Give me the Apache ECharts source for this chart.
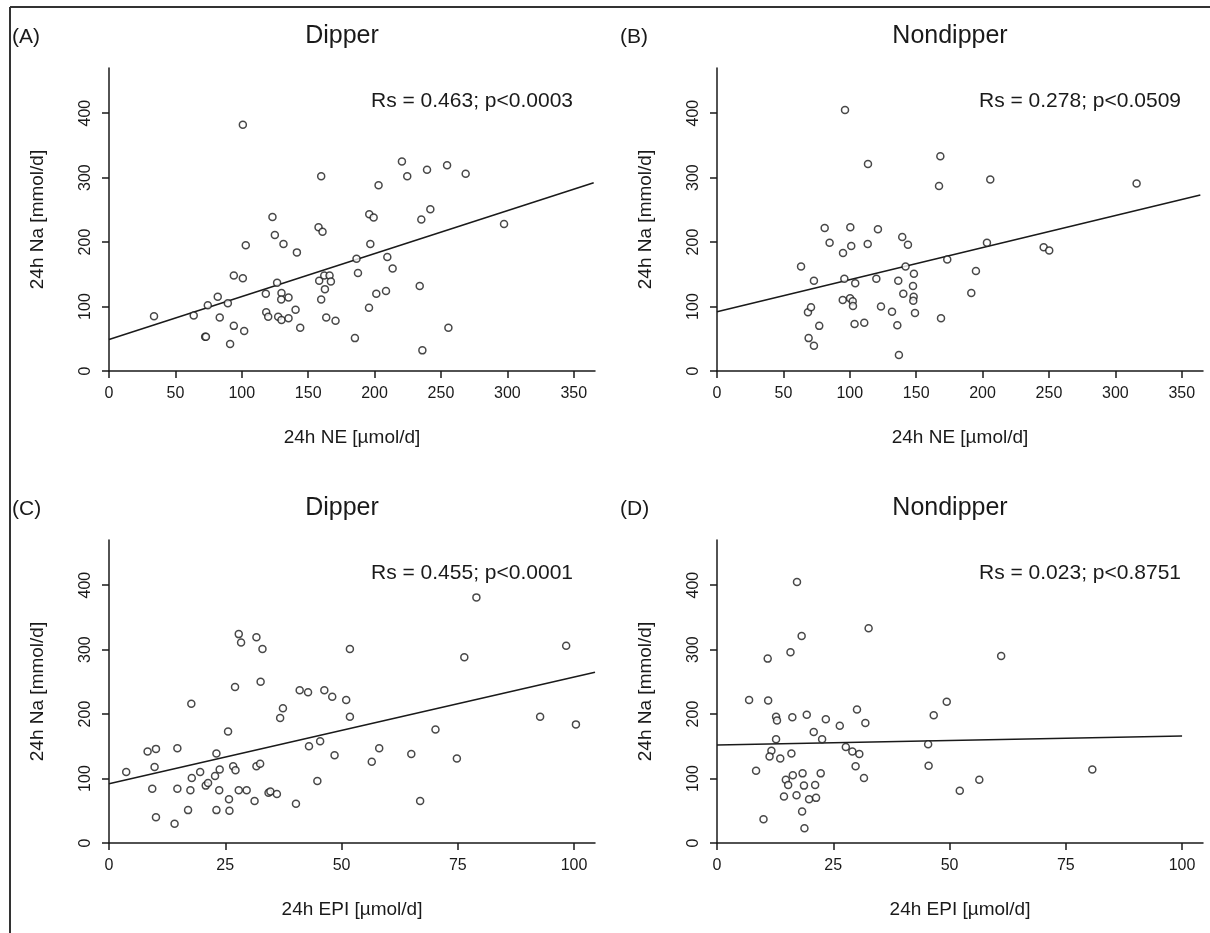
<!DOCTYPE html>
<html>
<head>
<meta charset="utf-8">
<script src="https://cdn.jsdelivr.net/npm/echarts@6/dist/echarts.min.js"></script>
<style>
  html, body { margin: 0; padding: 0; background: #fff; }
  #chart { width: 1210px; height: 933px; }
</style>
</head>
<body>
<div id="chart"></div>
<script>
// values: [x, 24h Na]
var dipperNE = [[33.9,85],[63.8,86],[74.4,102],[72.4,53],[73,53],[81.9,115],[83.4,83],[89.5,105],[91.2,42],[94,70],
  [94,148],[100.8,144],[101.8,62],[103,195],[100.8,382],[118.1,120],[118.4,91],[119.9,84],[123.1,239],[124.9,211],
  [126.6,137],[127.4,84],[129.9,121],[129.7,111],[129.9,79],[131.4,197],[135.2,114],[135.2,82],[140.5,95],[141.5,184],
  [144,67],[157.8,223],[160.8,216],[159.8,302],[158.3,140],[162.1,148],[166.1,148],[167.1,139],[162.6,127],[159.8,111],
  [163.6,83],[170.6,78],[185.2,51],[186.4,174],[187.5,152],[195.8,98],[196,243],[199.3,238],[196.8,197],[201.3,120],
  [203,288],[208.6,124],[209.6,177],[213.6,159],[220.6,325],[224.6,302],[234,132],[235.2,235],[236,32],[239.5,312],
  [242,251],[254.6,319],[255.6,67],[268.6,306],[297.5,228]];
var nondipperNE = [[63.3,162],[68.5,91],[70.8,99],[69,51],[73,140],[73,39],[77,70],[81.1,222],[84.8,199],[94.9,183],
  [96.4,405],[95.9,143],[94.7,110],[100.4,223],[101.1,194],[100.2,113],[102.2,108],[102.4,101],[104.1,136],[103.6,73],
  [110.9,75],[113.5,197],[113.7,321],[120,143],[121.2,220],[123.5,100],[131.8,92],[135.8,71],[136.5,140],[137,25],
  [139.5,208],[140.3,120],[142,162],[143.8,196],[148.3,151],[147.6,132],[148.1,115],[147.8,109],[149.1,90],[167.2,287],
  [168.2,333],[168.7,82],[173.4,173],[191.5,121],[195,155],[203.3,199],[205.8,297],[246,192],[250.2,187],[316,291]];
var dipperEPI = [[3.7,110],[8.3,142],[10.1,146],[9.8,118],[9.3,84],[10.1,40],[14.1,30],[14.7,147],[14.7,84],[17,51],
  [17.5,82],[17.8,101],[17.7,216],[19.6,110],[20.8,89],[21.3,93],[22.8,104],[23.1,139],[23.8,114],[23.7,82],
  [23.1,51],[25.8,68],[25.9,50],[25.6,173],[26.7,119],[27.2,113],[27.1,242],[27.9,324],[28.4,311],[27.9,82],
  [29.6,82],[31.3,65],[31.7,119],[32.5,123],[31.7,319],[33,301],[32.6,250],[34.3,78],[34.7,80],[36.1,76],
  [36.8,194],[37.4,209],[40.2,61],[41,237],[42.8,234],[43,150],[44.8,96],[45.4,158],[46.3,237],[48,227],
  [48.5,136],[51,222],[51.8,301],[51.8,196],[56.5,126],[58.1,147],[65,138],[66.9,65],[70.2,176],[74.8,131],
  [76.4,288],[79,381],[92.7,196],[98.3,306],[100.4,184]];
var nondipperEPI = [[6.9,222],[8.4,112],[10,37],[10.9,286],[11,221],[11.7,143],[11.3,134],[12.7,196],[12.9,190],[12.7,161],
  [13.6,131],[14.4,72],[14.8,98],[15.3,90],[15.8,296],[16.2,195],[16,139],[16.3,105],[17.2,405],[18.2,321],
  [17.1,74],[18.4,108],[18.7,89],[18.3,49],[18.8,23],[19.3,199],[19.8,68],[20.8,172],[21.1,90],[21.3,70],
  [22.3,108],[22.6,161],[23.4,192],[26.4,182],[27.7,149],[29.1,142],[30.1,207],[30.6,138],[29.8,119],[31.6,101],
  [31.9,186],[32.6,333],[45.4,153],[45.5,120],[46.6,198],[49.4,219],[52.2,81],[56.4,98],[61.1,290],[80.7,114]];

// fitted lines, end points
var fitA = [[0,49],[365,292]];
var fitB = [[0,92],[364,273]];
var fitC = [[0,92],[104.5,265]];
var fitD = [[0,152],[100,166]];

var naTicks = [0,100,200,300,400];
var neTicks = [0,50,100,150,200,250,300,350];
var epiTicks = [0,25,50,75,100];

var panelLetters = ['(A)','(B)','(C)','(D)'];
var panelTitles = ['Dipper','Nondipper','Dipper','Nondipper'];
var statTexts = ['Rs = 0.463; p<0.0003','Rs = 0.278; p<0.0509','Rs = 0.455; p<0.0001','Rs = 0.023; p<0.8751'];
var xNames = ['24h NE [\u00b5mol/d]','24h NE [\u00b5mol/d]','24h EPI [\u00b5mol/d]','24h EPI [\u00b5mol/d]'];

var FONT = '"Liberation Sans", Arial, Helvetica, sans-serif';
var INK = '#1a1a1a';

var chart = echarts.init(document.getElementById('chart'));

var grids = [], xAxes = [], yAxes = [], series = [], graphics = [];
var points = [dipperNE, nondipperNE, dipperEPI, nondipperEPI];
var fits = [fitA, fitB, fitC, fitD];

for (var i = 0; i < 4; i++) {
    var col = i % 2, row = Math.floor(i / 2);
    var gLeft = 109 + col * 608, gTop = 68 + row * 472;
    var isNE = row === 0;
    grids.push({ left: gLeft, top: gTop, width: 486, height: 303 });
    xAxes.push({
        type: 'value', gridIndex: i, min: 0, max: isNE ? 366 : 104.5,
        name: xNames[i], nameLocation: 'middle', nameGap: 57,
        nameTextStyle: { fontFamily: FONT, fontSize: 19, color: INK },
        axisLine: { onZero: false, lineStyle: { color: INK, width: 1.5 } },
        axisTick: { length: 7, lineStyle: { color: INK, width: 1.5 }, customValues: isNE ? neTicks : epiTicks },
        axisLabel: { fontFamily: FONT, fontSize: 16, color: INK, margin: 15, customValues: isNE ? neTicks : epiTicks },
        splitLine: { show: false }
    });
    yAxes.push({
        type: 'value', gridIndex: i, min: 0, max: 470,
        name: '24h Na [mmol/d]', nameLocation: 'middle', nameGap: 62,
        nameTextStyle: { fontFamily: FONT, fontSize: 19, color: INK },
        axisLine: { show: true, onZero: false, lineStyle: { color: INK, width: 1.5 } },
        axisTick: { show: true, length: 7, lineStyle: { color: INK, width: 1.5 }, customValues: naTicks },
        axisLabel: { rotate: 90, fontFamily: FONT, fontSize: 16, color: INK, margin: 15, customValues: naTicks },
        splitLine: { show: false }
    });
    series.push({
        type: 'scatter', xAxisIndex: i, yAxisIndex: i, data: points[i],
        symbol: 'circle', symbolSize: 7,
        itemStyle: { color: '#fff', borderColor: INK, borderWidth: 1.5 },
        z: 3
    });
    series.push({
        type: 'line', xAxisIndex: i, yAxisIndex: i, data: fits[i],
        symbol: 'none', silent: true,
        lineStyle: { color: INK, width: 1.6 }, z: 2
    });
    graphics.push({
        type: 'text', x: 12 + col * 608, y: 37 + row * 472,
        style: { text: panelLetters[i], font: '21px ' + FONT, fill: INK, align: 'left', verticalAlign: 'middle' }
    });
    graphics.push({
        type: 'text', x: 342 + col * 608, y: 36 + row * 472,
        style: { text: panelTitles[i], font: '25px ' + FONT, fill: INK, align: 'center', verticalAlign: 'middle' }
    });
    graphics.push({
        type: 'text', x: 472 + col * 608, y: 101 + row * 472,
        style: { text: statTexts[i], font: '21px ' + FONT, fill: INK, align: 'center', verticalAlign: 'middle' }
    });
}

// frame on the left and top
graphics.push({ type: 'line', shape: { x1: 10, y1: 7, x2: 1210, y2: 7 }, style: { stroke: '#333', lineWidth: 2 } });
graphics.push({ type: 'line', shape: { x1: 10, y1: 7, x2: 10, y2: 933 }, style: { stroke: '#333', lineWidth: 2 } });

var option = {
    animation: false,
    backgroundColor: '#fff',
    grid: grids,
    xAxis: xAxes,
    yAxis: yAxes,
    series: series,
    graphic: graphics
};

chart.setOption(option);
</script>
</body>
</html>
